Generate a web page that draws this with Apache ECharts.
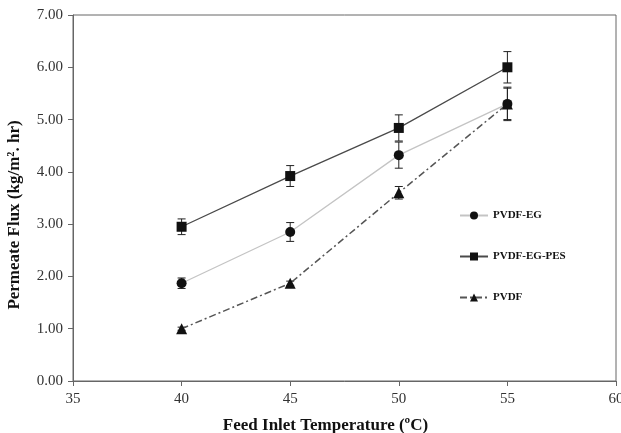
<!DOCTYPE html>
<html><head><meta charset="utf-8">
<script src="https://cdn.jsdelivr.net/npm/echarts@6/dist/echarts.min.js"></script>
<style>html,body{margin:0;padding:0;background:#fff}#c{width:621px;height:433px}</style>
</head><body><div id="c"></div>
<script>
const temps = [40, 45, 50, 55];
const seriesNames = ['PVDF-EG', 'PVDF-EG-PES', 'PVDF'];
const fluxEG = [1.87, 2.85, 4.32, 5.30];
const errEG = [0.10, 0.18, 0.25, 0.32];
const fluxEGPES = [2.95, 3.92, 4.84, 6.00];
const errEGPES = [0.15, 0.20, 0.25, 0.30];
const fluxPVDF = [1.00, 1.87, 3.60, 5.30];
const errPVDF = [0.03, 0.04, 0.12, 0.30];

const serif = '"Liberation Serif", "DejaVu Serif", serif';
function pts(ys){ return temps.map((t,i)=>[t, ys[i]]); }
function errPts(ys, es){ return temps.map((t,i)=>[t, ys[i], es[i]]); }
function errRender(params, api){
  const x = api.value(0), y = api.value(1), e = api.value(2);
  const top = api.coord([x, y + e]), bot = api.coord([x, y - e]);
  const w = 4;
  const st = {stroke:'#222', lineWidth:1};
  return {type:'group', children:[
    {type:'line', shape:{x1:top[0], y1:top[1], x2:bot[0], y2:bot[1]}, style:st},
    {type:'line', shape:{x1:top[0]-w, y1:top[1], x2:top[0]+w, y2:top[1]}, style:st},
    {type:'line', shape:{x1:bot[0]-w, y1:bot[1], x2:bot[0]+w, y2:bot[1]}, style:st}
  ]};
}
const chart = echarts.init(document.getElementById('c'));
chart.setOption({
  animation:false,
  backgroundColor:'#fff',
  grid:{left:73, right:5, top:15, bottom:52, show:true, borderColor:'#666', borderWidth:1,
        containLabel:false, outerBoundsMode:'none'},
  legend:{
    data:seriesNames, orient:'vertical', left:454, top:205, itemWidth:28, itemHeight:10, itemGap:30,
    textStyle:{fontFamily:serif, fontSize:11, fontWeight:'bold', color:'#111'}
  },
  xAxis:{
    type:'value', min:35, max:60, interval:5,
    name:'Feed Inlet Temperature (ºC)', nameLocation:'middle', nameGap:36,
    nameTextStyle:{fontFamily:serif, fontSize:17, fontWeight:'bold', color:'#111', padding:[0,38,0,0]},
    axisLine:{lineStyle:{color:'#666', width:1}},
    axisTick:{show:true, length:5, lineStyle:{color:'#666'}},
    axisLabel:{fontFamily:serif, fontSize:15, color:'#333', margin:11},
    splitLine:{show:false}
  },
  yAxis:{
    type:'value', min:0, max:7, interval:1,
    name:'Permeate Flux (kg/m². hr)', nameLocation:'middle', nameGap:50,
    nameTextStyle:{fontFamily:serif, fontSize:17, fontWeight:'bold', color:'#111', padding:[0,34,0,0]},
    axisLine:{show:true, lineStyle:{color:'#666', width:1}},
    axisTick:{show:true, length:5, lineStyle:{color:'#666'}},
    axisLabel:{fontFamily:serif, fontSize:15, color:'#333', margin:10, formatter:v=>v.toFixed(2)},
    splitLine:{show:false}
  },
  series:[
    {type:'custom', name:'errEG', renderItem:errRender, data:errPts(fluxEG, errEG), z:3, encode:{x:0,y:1}},
    {type:'custom', name:'errEGPES', renderItem:errRender, data:errPts(fluxEGPES, errEGPES), z:3, encode:{x:0,y:1}},
    {type:'custom', name:'errPVDF', renderItem:errRender, data:errPts(fluxPVDF, errPVDF), z:3, encode:{x:0,y:1}},
    {type:'line', name:seriesNames[0], data:pts(fluxEG), symbol:'circle', symbolSize:10, z:4,
     lineStyle:{color:'#c4c4c4', width:1.3}, itemStyle:{color:'#111', borderWidth:0}},
    {type:'line', name:seriesNames[1], data:pts(fluxEGPES), symbol:'rect', symbolSize:10, z:4,
     lineStyle:{color:'#4a4a4a', width:1.3}, itemStyle:{color:'#111', borderWidth:0}},
    {type:'line', name:seriesNames[2], data:pts(fluxPVDF), symbol:'triangle', symbolSize:11, z:4,
     lineStyle:{color:'#555', width:1.5, type:[7,3,2,3]}, itemStyle:{color:'#111', borderWidth:0}}
  ]
});
</script></body></html>
